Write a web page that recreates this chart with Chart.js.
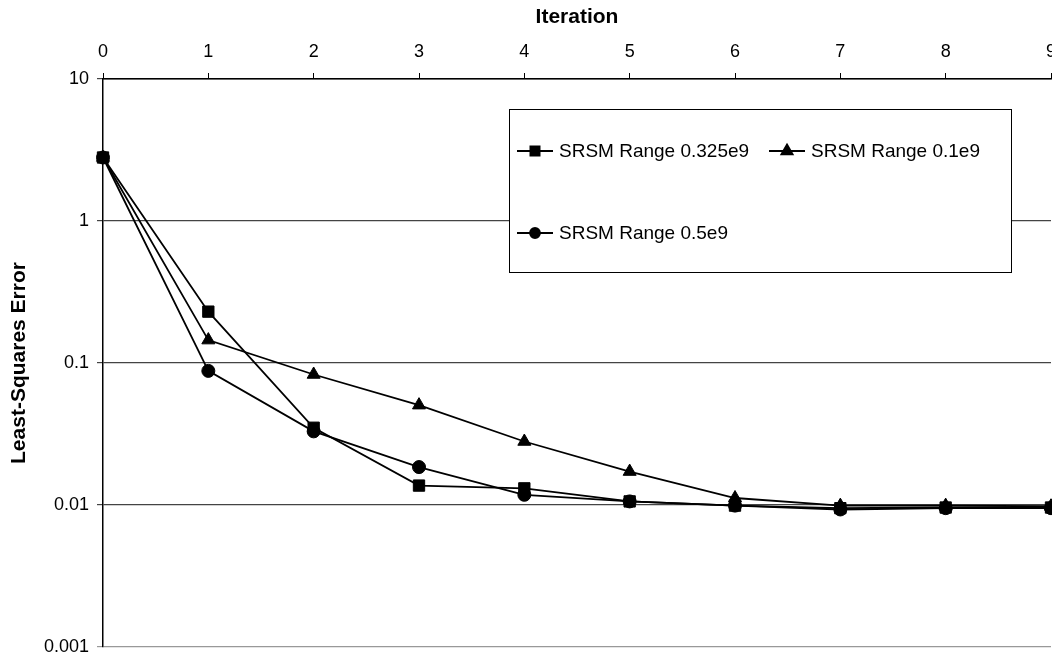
<!DOCTYPE html>
<html>
<head>
<meta charset="utf-8">
<script src="https://cdn.jsdelivr.net/npm/chart.js@4/dist/chart.umd.min.js"></script>
<style>
    html, body { margin: 0; padding: 0; background: #fff; overflow: hidden; }
    #wrap { position: relative; width: 1060px; height: 656px; }
</style>
</head>
<body>
<div id="wrap"><canvas id="c"></canvas></div>
<script>
    // --- data ---
    const iterations = [0, 1, 2, 3, 4, 5, 6, 7, 8, 9];
    const seriesLabels = ['SRSM Range 0.325e9', 'SRSM Range 0.1e9', 'SRSM Range 0.5e9'];
    const range0325 = [2.8, 0.23, 0.035, 0.0137, 0.0131, 0.0106, 0.0099, 0.0095, 0.0096, 0.0096];
    const range01   = [2.8, 0.145, 0.083, 0.0505, 0.028, 0.0172, 0.0112, 0.0099, 0.0099, 0.0098];
    const range05   = [2.8, 0.088, 0.033, 0.0185, 0.0118, 0.0106, 0.0099, 0.0093, 0.0095, 0.0095];
    const yTicks = [0.001, 0.01, 0.1, 1, 10];
    const yTickLabels = ['0.001', '0.01', '0.1', '1', '10'];

    const FONT = "'Liberation Sans', Arial, sans-serif";

    const toPoints = (vals) => vals.map((v, i) => ({ x: iterations[i], y: v }));

    const makeSeries = (label, vals, style, radius) => ({
        label: label,
        data: toPoints(vals),
        borderColor: '#000',
        backgroundColor: '#000',
        borderWidth: 1.8,
        pointStyle: style,
        pointRadius: radius,
        pointHoverRadius: radius,
        pointBackgroundColor: '#000',
        pointBorderColor: '#000',
        pointBorderWidth: 1,
        tension: 0,
        fill: false,
        clip: false
    });

    // Legend drawn inside the plot, two items on row one, one on row two
    const boxLegend = {
        id: 'boxLegend',
        afterDatasetsDraw(chart) {
            const ctx = chart.ctx;
            const a = chart.chartArea;
            const bx = a.left + 406, by = a.top + 30, bw = 502, bh = 163;
            ctx.save();
            ctx.fillStyle = '#fff';
            ctx.fillRect(bx, by, bw, bh);
            ctx.strokeStyle = '#000';
            ctx.lineWidth = 1;
            ctx.strokeRect(bx + 0.5, by + 0.5, bw, bh);

            const slots = [
                { x: bx + 8,   y: by + 42 },
                { x: bx + 260, y: by + 42 },
                { x: bx + 8,   y: by + 124 }
            ];
            const legendRadius = { rect: 6.5, triangle: 6.5, circle: 5 };
            chart.data.datasets.forEach((ds, i) => {
                const s = slots[i];
                ctx.strokeStyle = '#000';
                ctx.lineWidth = 1.8;
                ctx.beginPath();
                ctx.moveTo(s.x, s.y);
                ctx.lineTo(s.x + 36, s.y);
                ctx.stroke();
                ctx.fillStyle = '#000';
                Chart.helpers.drawPoint(ctx, {
                    pointStyle: ds.pointStyle,
                    radius: legendRadius[ds.pointStyle],
                    borderWidth: 1,
                    rotation: 0
                }, s.x + 18, s.y);
                ctx.fillStyle = '#000';
                ctx.font = '19px ' + FONT;
                ctx.textBaseline = 'middle';
                ctx.textAlign = 'left';
                ctx.fillText(ds.label, s.x + 42, s.y + 1);
            });
            ctx.restore();
        }
    };

    const ctx = document.getElementById('c').getContext('2d');
    const chart = new Chart(ctx, {
        type: 'line',
        data: {
            datasets: [
                makeSeries(seriesLabels[0], range0325, 'rect', 8),
                makeSeries(seriesLabels[1], range01, 'triangle', 7.5),
                makeSeries(seriesLabels[2], range05, 'circle', 6.5)
            ]
        },
        options: {
            responsive: true,
            maintainAspectRatio: false,
            animation: false,
            layout: { padding: { left: 0, right: 5, top: 0, bottom: 9 } },
            scales: {
                x: {
                    type: 'linear',
                    position: 'top',
                    min: 0,
                    max: 9,
                    ticks: {
                        stepSize: 1,
                        color: '#000',
                        padding: 10,
                        maxRotation: 0,
                        font: { family: FONT, size: 18 }
                    },
                    grid: {
                        drawOnChartArea: false,
                        drawTicks: true,
                        tickLength: 6,
                        color: '#000',
                        lineWidth: 1
                    },
                    border: { display: true, color: '#000', width: 1.5 },
                    title: {
                        display: true,
                        text: 'Iteration',
                        color: '#000',
                        padding: { top: 5, bottom: 0 },
                        font: { family: FONT, size: 21, weight: 'bold' }
                    },
                    afterFit(scale) {
                        scale.height = 79;
                        scale.paddingLeft = 0;
                        scale.paddingRight = 0;
                    }
                },
                y: {
                    type: 'logarithmic',
                    min: 0.001,
                    max: 10,
                    afterBuildTicks(scale) {
                        scale.ticks = yTicks.map(v => ({ value: v }));
                    },
                    ticks: {
                        color: '#000',
                        padding: 8,
                        font: { family: FONT, size: 18 },
                        callback: (v) => yTickLabels[yTicks.indexOf(v)]
                    },
                    grid: {
                        drawOnChartArea: true,
                        drawTicks: true,
                        tickLength: 6,
                        color: (c) => (c.tick && c.tick.value === 0.001) ? '#999' : '#444',
                        lineWidth: 1.2
                    },
                    border: { display: true, color: '#000', width: 1.5 },
                    title: {
                        display: true,
                        text: 'Least-Squares Error',
                        color: '#000',
                        padding: { top: 7, bottom: 6 },
                        font: { family: FONT, size: 21, weight: 'bold' }
                    },
                    afterFit(scale) {
                        scale.width = 103;
                        scale.paddingTop = 0;
                        scale.paddingBottom = 0;
                    }
                }
            },
            plugins: {
                legend: { display: false },
                tooltip: { enabled: false }
            }
        },
        plugins: [boxLegend]
    });
</script>
</body>
</html>
